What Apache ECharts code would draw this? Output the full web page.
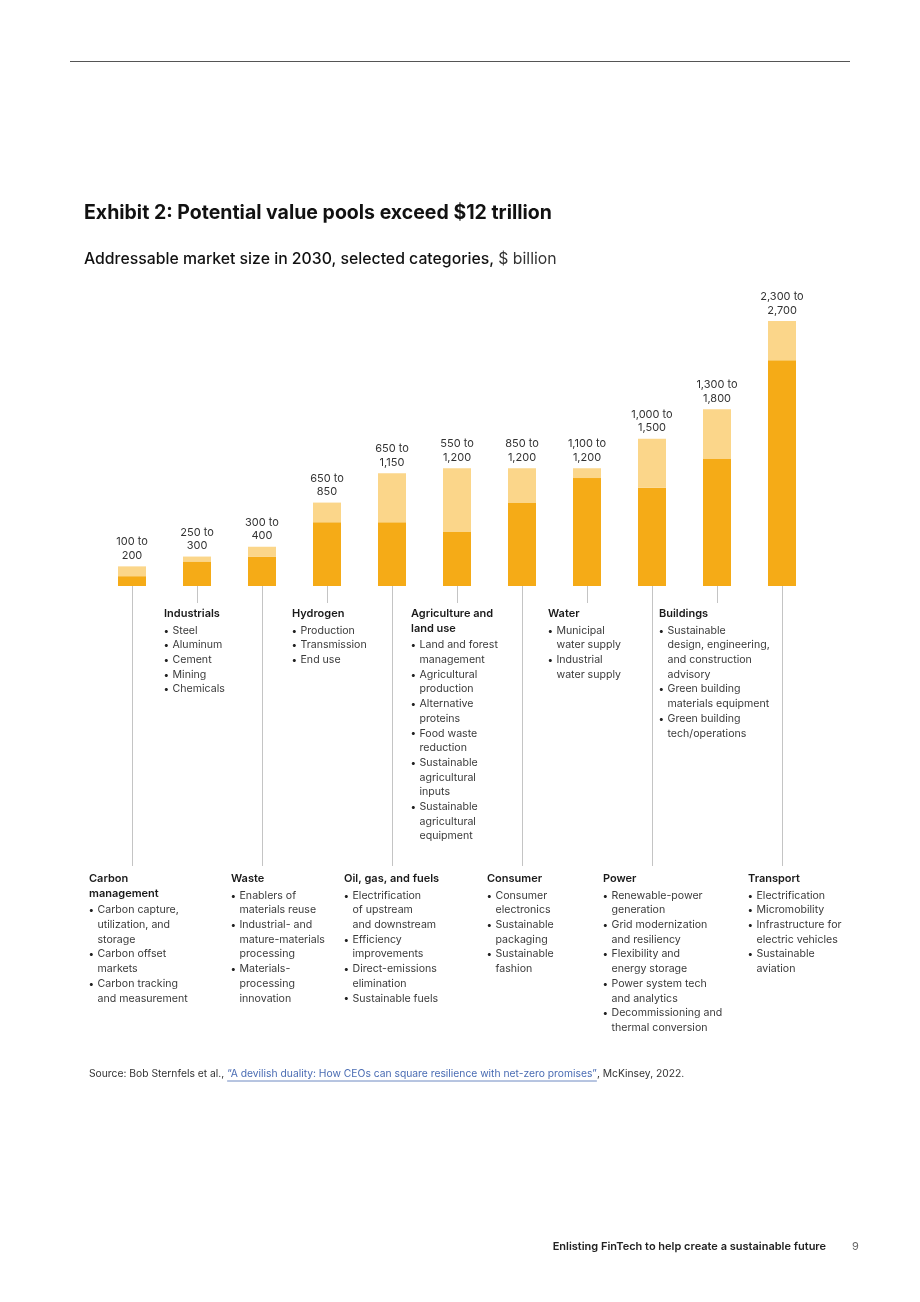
<!DOCTYPE html>
<html lang="en">
<head>
<meta charset="utf-8">
<title>Exhibit 2</title>
<script src="https://cdn.jsdelivr.net/npm/echarts@6.0.0/dist/echarts.min.js"></script>
<style>
    html, body { margin: 0; padding: 0; background: #fff; }
    #main { width: 920px; height: 1302px; }
</style>
</head>
<body>
<div id="main"></div>
<script type="text/javascript">

    var categories = ['Carbon management', 'Industrials', 'Waste', 'Hydrogen', 'Oil, gas, and fuels',
        'Agriculture and land use', 'Consumer', 'Water', 'Power', 'Buildings', 'Transport'];
    var lowValues = [100, 250, 300, 650, 650, 550, 850, 1100, 1000, 1300, 2300];
    var highValues = [200, 300, 400, 850, 1150, 1200, 1200, 1200, 1500, 1800, 2700];

    // header lines + bullet items (each bullet is a list of wrapped lines)
    var headers = [
        ['Carbon', 'management'], ['Industrials'], ['Waste'], ['Hydrogen'], ['Oil, gas, and fuels'],
        ['Agriculture and', 'land use'], ['Consumer'], ['Water'], ['Power'], ['Buildings'], ['Transport']
    ];
    var bullets = [
        [['Carbon capture,', 'utilization, and', 'storage'], ['Carbon offset', 'markets'], ['Carbon tracking', 'and measurement']],
        [['Steel'], ['Aluminum'], ['Cement'], ['Mining'], ['Chemicals']],
        [['Enablers of', 'materials reuse'], ['Industrial- and', 'mature-materials', 'processing'], ['Materials-', 'processing', 'innovation']],
        [['Production'], ['Transmission'], ['End use']],
        [['Electrification', 'of upstream', 'and downstream'], ['Efficiency', 'improvements'], ['Direct-emissions', 'elimination'], ['Sustainable fuels']],
        [['Land and forest', 'management'], ['Agricultural', 'production'], ['Alternative', 'proteins'], ['Food waste', 'reduction'], ['Sustainable', 'agricultural', 'inputs'], ['Sustainable', 'agricultural', 'equipment']],
        [['Consumer', 'electronics'], ['Sustainable', 'packaging'], ['Sustainable', 'fashion']],
        [['Municipal', 'water supply'], ['Industrial', 'water supply']],
        [['Renewable-power', 'generation'], ['Grid modernization', 'and resiliency'], ['Flexibility and', 'energy storage'], ['Power system tech', 'and analytics'], ['Decommissioning and', 'thermal conversion']],
        [['Sustainable', 'design, engineering,', 'and construction', 'advisory'], ['Green building', 'materials equipment'], ['Green building', 'tech/operations']],
        [['Electrification'], ['Micromobility'], ['Infrastructure for', 'electric vehicles'], ['Sustainable', 'aviation']]
    ];
    var blockLeft = [89, 164, 231, 292, 344, 411, 487, 548, 603, 659, 748];

    var FONT = 'Inter, Roboto, sans-serif';
    var LH = 14.7;

    function fmt(n) {
        return String(n).replace(/\B(?=(\d{3})+(?!\d))/g, ',');
    }

    var rangeValues = highValues.map(function (h, i) { return h - lowValues[i]; });

    var myChart = echarts.init(document.getElementById('main'));

    // text blocks under the bars
    var graphics = [];
    categories.forEach(function (c, i) {
        var top = (i % 2 === 0 ? 879 : 614) - LH / 2;
        var x = blockLeft[i];
        graphics.push({
            type: 'text', left: x, top: top,
            style: { text: headers[i].join('\n'), font: '600 11px ' + FONT, fill: '#1a1a1a', lineHeight: LH }
        });
        var itemTop = top + headers[i].length * LH + 1.8;
        var lines = [], dots = [];
        bullets[i].forEach(function (b) {
            b.forEach(function (l, k) {
                lines.push(l);
                dots.push(k === 0 ? '\u2022' : ' ');
            });
        });
        graphics.push({
            type: 'text', left: x - 0.5, top: itemTop,
            style: { text: dots.join('\n'), font: '10px ' + FONT, fill: '#222', lineHeight: LH }
        });
        graphics.push({
            type: 'text', left: x + 8.5, top: itemTop,
            style: { text: lines.join('\n'), font: '10.6px ' + FONT, fill: '#3a3a3a', lineHeight: LH }
        });
    });

    // source line with underlined link
    var srcPre = 'Source: Bob Sternfels et al., ';
    var srcLink = '\u201CA devilish duality: How CEOs can square resilience with net-zero promises\u201D';
    var srcPost = ', McKinsey, 2022.';
    var srcFont = '10.3px ' + FONT;
    var ctx = document.createElement('canvas').getContext('2d');
    ctx.font = srcFont;
    var preW = ctx.measureText(srcPre).width;
    var linkW = ctx.measureText(srcLink).width;
    graphics.push({
        type: 'text', left: 89, top: 1069,
        style: {
            text: '{a|' + srcPre + '}{b|' + srcLink + '}{a|' + srcPost + '}',
            rich: {
                a: { font: srcFont, fill: '#333' },
                b: { font: srcFont, fill: '#4a6cb3' }
            }
        }
    });
    graphics.push({
        type: 'line', shape: { x1: 89 + preW, y1: 1081, x2: 89 + preW + linkW, y2: 1081 },
        style: { stroke: '#4a6cb3', lineWidth: 0.8 }
    });

    // page rule and footer
    graphics.push({ type: 'line', shape: { x1: 70, y1: 61.5, x2: 850, y2: 61.5 }, style: { stroke: '#555', lineWidth: 1 } });
    graphics.push({
        type: 'text', right: 94, top: 1241,
        style: { text: 'Enlisting FinTech to help create a sustainable future', font: '600 11px ' + FONT, fill: '#222' }
    });
    graphics.push({ type: 'text', left: 852, top: 1241, style: { text: '9', font: '11px ' + FONT, fill: '#666' } });

    var option = {
        backgroundColor: '#fff',
        animation: false,
        title: [
            {
                text: 'Exhibit 2: Potential value pools exceed $12 trillion',
                left: 79, top: 198,
                textStyle: { fontFamily: FONT, fontSize: 19.5, fontWeight: 700, color: '#111' }
            },
            {
                text: '{m|Addressable market size in 2030, selected categories, }{r|$ billion}',
                left: 79, top: 246,
                textStyle: {
                    rich: {
                        m: { fontFamily: FONT, fontSize: 15.8, fontWeight: 500, color: '#111' },
                        r: { fontFamily: FONT, fontSize: 15.8, fontWeight: 400, color: '#333' }
                    }
                }
            }
        ],
        grid: { left: 99.5, right: 105.5, top: 291.6, height: 294.4 },
        xAxis: {
            type: 'category',
            data: categories,
            axisLine: { show: false },
            axisTick: { show: false },
            axisLabel: { show: false }
        },
        yAxis: {
            type: 'value',
            min: 0, max: 3000,
            show: false,
            splitLine: { show: false }
        },
        series: [
            {
                name: 'Low',
                type: 'bar',
                stack: 'range',
                barWidth: 28,
                itemStyle: { color: '#f5ab17' },
                data: lowValues
            },
            {
                name: 'Range',
                type: 'bar',
                stack: 'range',
                barWidth: 28,
                itemStyle: { color: '#fbd68a' },
                label: {
                    show: true,
                    position: 'top',
                    distance: 4,
                    fontFamily: FONT,
                    fontSize: 11,
                    lineHeight: 13.5,
                    color: '#333',
                    formatter: function (p) {
                        return fmt(lowValues[p.dataIndex]) + ' to\n' + fmt(highValues[p.dataIndex]);
                    }
                },
                data: rangeValues
            },
            {
                // leader lines from each bar down to its text block
                name: 'Leaders',
                type: 'custom',
                silent: true,
                clip: false,
                z: 1,
                data: categories.map(function (c, i) { return [i, i % 2 === 0 ? 280 : 17]; }),
                renderItem: function (params, api) {
                    var p = api.coord([api.value(0), 0]);
                    return {
                        type: 'line',
                        shape: { x1: Math.round(p[0]) + 0.5, y1: p[1], x2: Math.round(p[0]) + 0.5, y2: p[1] + api.value(1) },
                        style: { stroke: '#c4c4c4', lineWidth: 1 }
                    };
                }
            }
        ],
        graphic: graphics
    };
    myChart.setOption(option);

</script>
</body>
</html>
